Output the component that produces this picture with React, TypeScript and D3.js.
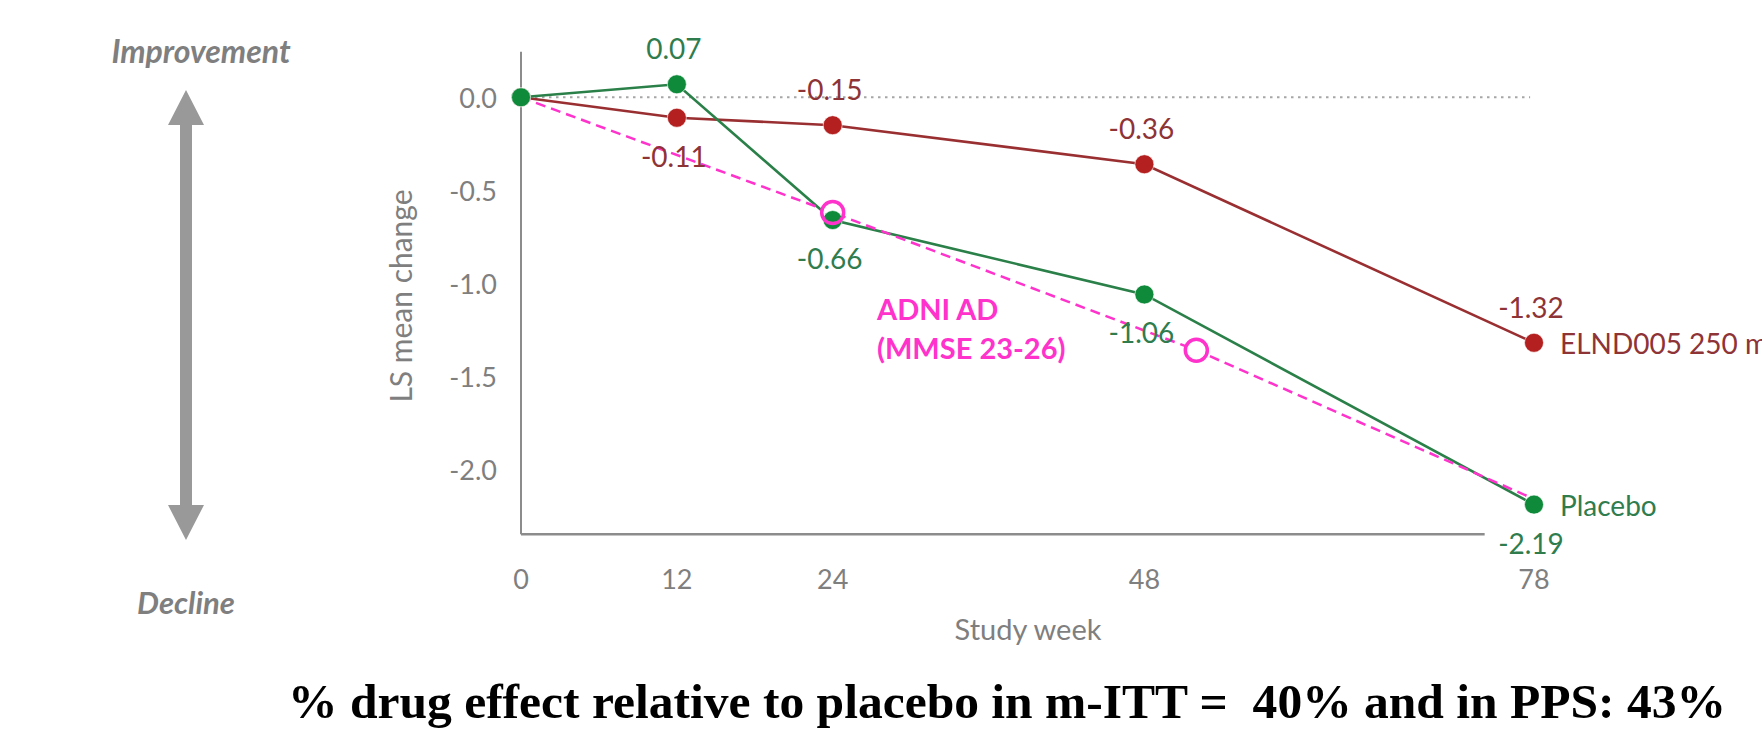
import React from "react";
import * as d3 from "d3";

// study weeks on the x axis
const weeks = [0, 12, 24, 48, 78];
// LS mean change from baseline
const elnd005 = [0, -0.11, -0.15, -0.36, -1.32];
const placebo = [0, 0.07, -0.66, -1.06, -2.19];
// where each data label sits relative to its point
const elndLabelPos = ["none", "below", "above", "above", "above"];
const placeboLabelPos = ["none", "above", "below", "below", "below"];

// ADNI AD (MMSE 23-26) reference trajectory
const adniWeeks = [0, 24, 52, 78];
const adniValues = [0, -0.62, -1.36, -2.16];
const adniCircled = [false, true, true, false];

const yTicks = [0, -0.5, -1.0, -1.5, -2.0];
const xTicks = [0, 12, 24, 48, 78];

const RED = "#B3201F";
const RED_LINE = "#9A2F32";
const RED_TEXT = "#8E3336";
const GREEN = "#0F8A3A";
const GREEN_LINE = "#2A8048";
const GREEN_TEXT = "#2F7D4E";
const MAGENTA = "#FF33CC";
const GREY = "#7F7F7F";
const FONT = "Lato, 'Open Sans', sans-serif";

const W = 1762;
const H = 735;

const x = d3.scaleLinear().domain([0, 78]).range([521, 1534]);
const y = d3.scaleLinear().domain([0, -2.19]).range([97.3, 504.6]);

const line = d3
	.line<[number, number]>()
	.x((d) => x(d[0]))
	.y((d) => y(d[1]));

const fmt = (v: number) => v.toFixed(2);

function SeriesLine({ values, lineColor }: { values: number[]; lineColor: string }) {
	const pts = weeks.map((w, i) => [w, values[i]] as [number, number]);
	return <path d={line(pts) || ""} fill="none" stroke={lineColor} strokeWidth={2.6} />;
}

function Dots({ values, dotColor }: { values: number[]; dotColor: string }) {
	return (
		<g>
			{weeks.map((w, i) => (
				<circle
					key={i}
					cx={x(w)}
					cy={y(values[i])}
					r={9.5}
					fill={dotColor}
					stroke="#ffffff"
					strokeOpacity={0.6}
					strokeWidth={1}
				/>
			))}
		</g>
	);
}

function Labels({
	values,
	textColor,
	labelPos,
	name,
}: {
	values: number[];
	textColor: string;
	labelPos: string[];
	name: string;
}) {
	const last = weeks.length - 1;
	return (
		<g fontFamily={FONT} fontSize={28} fill={textColor}>
			{weeks.map((w, i) =>
				labelPos[i] === "none" ? null : (
					<text
						key={i}
						x={x(w) - 3}
						y={y(values[i]) + (labelPos[i] === "above" ? -36 : 38)}
						textAnchor="middle"
						dominantBaseline="central"
					>
						{fmt(values[i])}
					</text>
				)
			)}
			<text x={x(weeks[last]) + 26} y={y(values[last])} dominantBaseline="central">
				{name}
			</text>
		</g>
	);
}

export default function App() {
	const axisTop = y(0.245);
	const axisBottom = y(-2.35);
	const adniPts = adniWeeks.map((w, i) => [w, adniValues[i]] as [number, number]);

	// double-headed arrow on the left
	const ax = 186;
	const tip1 = 90;
	const tip2 = 540;
	const hw = 18;
	const hh = 35;
	const sw = 6;
	const arrow = `M${ax},${tip1} L${ax + hw},${tip1 + hh} L${ax + sw},${tip1 + hh} L${ax + sw},${tip2 - hh} L${ax + hw},${tip2 - hh} L${ax},${tip2} L${ax - hw},${tip2 - hh} L${ax - sw},${tip2 - hh} L${ax - sw},${tip1 + hh} L${ax - hw},${tip1 + hh} Z`;

	return (
		<svg
			width={W}
			height={H}
			style={{ position: "absolute", left: 0, top: 0, background: "#fff" }}
		>
			<rect width={W} height={H} fill="#fff" />

			{/* improvement / decline arrow */}
			<path d={arrow} fill="#999999" />
			<text
				x={201}
				y={50}
				textAnchor="middle"
				dominantBaseline="central"
				fontFamily={FONT}
				fontWeight="bold"
				fontStyle="italic"
				fontSize={32}
				fill={GREY}
			>
				Improvement
			</text>
			<text
				x={186}
				y={602}
				textAnchor="middle"
				dominantBaseline="central"
				fontFamily={FONT}
				fontWeight="bold"
				fontStyle="italic"
				fontSize={31}
				fill={GREY}
			>
				Decline
			</text>

			{/* axes */}
			<line x1={x(0)} x2={x(0)} y1={axisTop} y2={axisBottom} stroke="#8C8C8C" strokeWidth={2} />
			<line x1={x(0)} x2={x(74.2)} y1={axisBottom} y2={axisBottom} stroke="#8C8C8C" strokeWidth={2.5} />
			<line
				x1={x(0)}
				x2={x(77.7)}
				y1={y(0)}
				y2={y(0)}
				stroke="#A6A6A6"
				strokeWidth={2}
				strokeDasharray="2.5 4.5"
			/>
			<g fontFamily={FONT} fontSize={27} fill={GREY}>
				{yTicks.map((t) => (
					<text key={t} x={497} y={y(t)} textAnchor="end" dominantBaseline="central">
						{t.toFixed(1)}
					</text>
				))}
				{xTicks.map((t) => (
					<text key={t} x={x(t)} y={578} textAnchor="middle" dominantBaseline="central">
						{t}
					</text>
				))}
				<text x={1028} y={628} textAnchor="middle" dominantBaseline="central" fontSize={29}>
					Study week
				</text>
				<text
					transform="translate(400,296) rotate(-90)"
					textAnchor="middle"
					dominantBaseline="central"
					fontSize={30}
				>
					LS mean change
				</text>
			</g>

			{/* series lines */}
			<SeriesLine values={elnd005} lineColor={RED_LINE} />
			<SeriesLine values={placebo} lineColor={GREEN_LINE} />

			{/* ADNI reference */}
			<path
				d={line(adniPts) || ""}
				fill="none"
				stroke={MAGENTA}
				strokeWidth={2.5}
				strokeDasharray="10 6"
			/>
			{adniPts.map((p, i) =>
				adniCircled[i] ? (
					<circle key={"f" + i} cx={x(p[0])} cy={y(p[1])} r={11} fill="#fff" />
				) : null
			)}

			<Dots values={elnd005} dotColor={RED} />
			<Dots values={placebo} dotColor={GREEN} />

			{adniPts.map((p, i) =>
				adniCircled[i] ? (
					<circle
						key={"r" + i}
						cx={x(p[0])}
						cy={y(p[1])}
						r={11}
						fill="none"
						stroke={MAGENTA}
						strokeWidth={3.5}
					/>
				) : null
			)}

			<Labels values={elnd005} textColor={RED_TEXT} labelPos={elndLabelPos} name="ELND005 250 mg" />
			<Labels values={placebo} textColor={GREEN_TEXT} labelPos={placeboLabelPos} name="Placebo" />

			<g fontFamily={FONT} fontWeight="bold" fontSize={29} fill={MAGENTA}>
				<text x={877} y={308} dominantBaseline="central">
					ADNI AD
				</text>
				<text x={877} y={347} dominantBaseline="central">
					(MMSE 23-26)
				</text>
			</g>

			{/* footer */}
			<text
				x={288}
				y={718}
				fontFamily="'Liberation Serif', 'DejaVu Serif', serif"
				fontWeight="bold"
				fontSize={48}
				fill="#000"
				textLength={1438}
				lengthAdjust="spacingAndGlyphs"
				style={{ whiteSpace: "pre" }}
			>
				% drug effect relative to placebo in m-ITT =  40% and in PPS: 43%
			</text>
		</svg>
	);
}
